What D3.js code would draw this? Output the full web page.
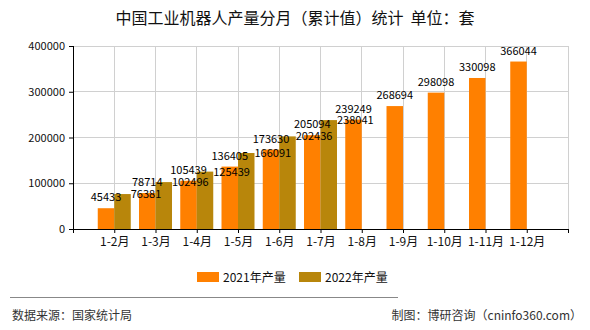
<!DOCTYPE html>
<html><head><meta charset="utf-8">
<script src="https://cdn.jsdelivr.net/npm/d3@7/dist/d3.min.js"></script>
<style>
body{margin:0;background:#fff;}
text{font-family:"Noto Sans CJK SC","Liberation Sans",sans-serif;}
</style></head>
<body><svg id="c" width="590" height="330"></svg>
<script>
const categories = ["1-2月","1-3月","1-4月","1-5月","1-6月","1-7月","1-8月","1-9月","1-10月","1-11月","1-12月"];
const values2021 = [45433,78714,105439,136405,173630,205094,239249,268694,298098,330098,366044];
const values2022 = [76381,102496,125439,166091,202436,238041];
const yTicks = [0,100000,200000,300000,400000];
const seriesNames = ["2021年产量","2022年产量"];
const colors = ["#FF8000","#B8860B"];

const svg = d3.select("#c");
const L = 73, R = 568, T = 46, B = 229;
const x = d3.scalePoint().domain(["__s", ...categories, "__e"]).range([L, R]);
const y = d3.scaleLinear().domain([0, 400000]).range([B, T]);
const bw = 16.5;

// title
svg.append("text").attr("x", 295).attr("y", 24).attr("text-anchor","middle")
  .attr("font-size", 16).attr("fill","#111").text("中国工业机器人产量分月（累计值）统计\u00a0\u00a0单位：套");

// grid
const g = svg.append("g");
g.selectAll(".hg").data(yTicks).join("line")
  .attr("x1", L).attr("x2", R).attr("y1", d=>y(d)).attr("y2", d=>y(d))
  .attr("stroke","#d0d0d0").attr("stroke-width",1).attr("shape-rendering","crispEdges");
g.selectAll(".vg").data([...categories, "__e"]).join("line")
  .attr("x1", d=>x(d)).attr("x2", d=>x(d)).attr("y1", T).attr("y2", B)
  .attr("stroke","#d0d0d0").attr("stroke-width",1).attr("shape-rendering","crispEdges");

// bars
svg.append("g").selectAll("rect").data(values2021).join("rect")
  .attr("x", (d,i)=>x(categories[i]) - bw).attr("width", bw)
  .attr("y", d=>y(d)).attr("height", d=>B - y(d)).attr("fill", colors[0]);
svg.append("g").selectAll("rect").data(values2022).join("rect")
  .attr("x", (d,i)=>x(categories[i])).attr("width", bw)
  .attr("y", d=>y(d)).attr("height", d=>B - y(d)).attr("fill", colors[1]);

// axes
const ax = svg.append("g").attr("transform", `translate(0,${B})`)
  .call(d3.axisBottom(x).tickValues(["__s", ...categories, "__e"]).tickSize(4).tickPadding(4)
    .tickFormat(d => d.startsWith("__") ? "" : d));
ax.selectAll("text").attr("font-size", 12).attr("fill","#111");
ax.selectAll("line,path").attr("stroke","#000");
ax.select("path").attr("d", `M${L},0.5H${R}`);

const ay = svg.append("g").attr("transform", `translate(${L},0)`)
  .call(d3.axisLeft(y).tickValues(yTicks).tickSize(4).tickPadding(4).tickFormat(d3.format("d")));
ay.selectAll("text").attr("font-size", 11).attr("fill","#111").attr("font-family","Liberation Sans");
ay.selectAll("line,path").attr("stroke","#000");
ay.select("path").attr("d", `M0.5,${B}V${T}`);

// labels
svg.append("g").selectAll("text").data(values2021).join("text")
  .attr("x", (d,i)=>x(categories[i]) - bw/2).attr("y", d=>y(d) - 7)
  .attr("text-anchor","middle").attr("font-size", 11).attr("font-family","Liberation Sans")
  .attr("fill","#000").text(d=>d);
svg.append("g").selectAll("text").data(values2022).join("text")
  .attr("x", (d,i)=>x(categories[i]) + bw).attr("y", d=>y(d) + 4)
  .attr("text-anchor","start").attr("font-size", 11).attr("font-family","Liberation Sans")
  .attr("fill","#000").text(d=>d);

// legend
const lx = [197, 299];
seriesNames.forEach((n,i)=>{
  svg.append("rect").attr("x", lx[i]).attr("y", 272).attr("width", 22).attr("height", 10).attr("fill", colors[i]);
  svg.append("text").attr("x", lx[i] + 26).attr("y", 281.5).attr("font-size", 12).attr("fill","#111").text(n);
});

// footer
svg.append("line").attr("x1", 10).attr("x2", 398).attr("y1", 297.5).attr("y2", 297.5).attr("stroke","#888");
svg.append("text").attr("x", 12).attr("y", 320).attr("font-size", 12).attr("fill","#333").text("数据来源：国家统计局");
svg.append("text").attr("x", 582).attr("y", 320).attr("text-anchor","end").attr("font-size", 12).attr("fill","#333").text("制图：博研咨询（cninfo360.com）");
</script></body></html>
